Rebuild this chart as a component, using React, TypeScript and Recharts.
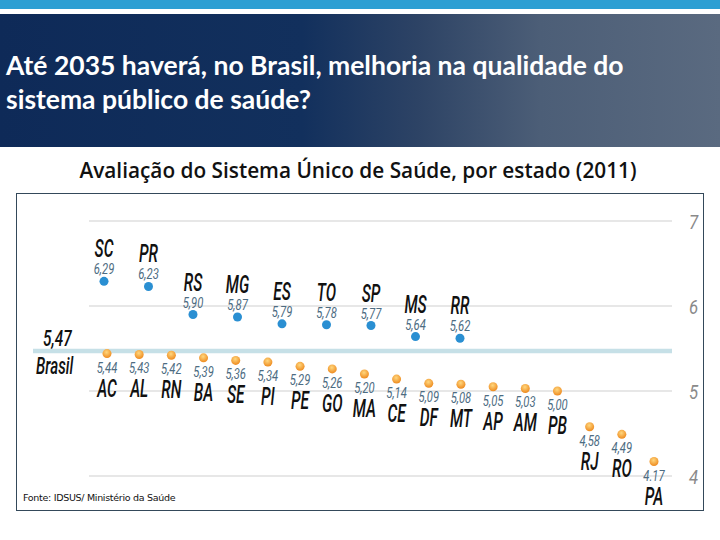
import { ScatterChart, Scatter, XAxis, YAxis, ReferenceLine } from 'recharts'

// states above the national average (blue) and below (orange)
const blueStates = ['SC', 'PR', 'RS', 'MG', 'ES', 'TO', 'SP', 'MS', 'RR']
const blueValues = [6.29, 6.23, 5.9, 5.87, 5.79, 5.78, 5.77, 5.64, 5.62]
const orangeStates = ['AC', 'AL', 'RN', 'BA', 'SE', 'PI', 'PE', 'GO', 'MA', 'CE', 'DF', 'MT', 'AP', 'AM', 'PB', 'RJ', 'RO', 'PA']
const orangeValues = [5.44, 5.43, 5.42, 5.39, 5.36, 5.34, 5.29, 5.26, 5.2, 5.14, 5.09, 5.08, 5.05, 5.03, 5.0, 4.58, 4.49, 4.17]
const brasilValue = 5.47
const yTicks = [4, 5, 6, 7]

const blueData = blueStates.map((uf, i) => ({ i, v: blueValues[i], uf }))
const orangeData = orangeStates.map((uf, i) => ({ i, v: orangeValues[i], uf }))

const FONT = 'Roboto, "DejaVu Sans", sans-serif'

// the source prints PA with a dot
const fmt = (v: number, uf: string) => v.toFixed(2).replace('.', uf === 'PA' ? '.' : ',')

// no condensed font installed, so squeeze the glyphs horizontally
function CText({ x, y, size, sx, fill, anchor = 'middle', weight = 400, children }: any) {
  return (
    <text
      transform={`translate(${x},${y}) scale(${sx},1)`}
      textAnchor={anchor}
      fontFamily={FONT}
      fontStyle="italic"
      fontWeight={weight}
      fontSize={size}
      fill={fill}
    >
      {children}
    </text>
  )
}

function BlueDot(props: any) {
  const { cx, cy, payload } = props
  return (
    <g>
      <CText x={cx} y={cy - 24} size={25} sx={0.62} fill="#111" weight={500}>{payload.uf}</CText>
      <CText x={cx} y={cy - 7} size={15} sx={0.75} fill="#4d6c82">{fmt(payload.v, payload.uf)}</CText>
      <circle cx={cx} cy={cy} r={4.5} fill="#2a8fd2" />
    </g>
  )
}

function OrangeDot(props: any) {
  const { cx, cy, payload } = props
  return (
    <g>
      <circle cx={cx} cy={cy} r={4.5} fill="url(#orangeBall)" />
      <CText x={cx} y={cy + 19} size={15} sx={0.75} fill="#4d6c82">{fmt(payload.v, payload.uf)}</CText>
      <CText x={cx} y={cy + 43} size={25} sx={0.62} fill="#111" weight={500}>{payload.uf}</CText>
    </g>
  )
}

function BrasilLine(props: any) {
  const { x1, x2, y1 } = props
  const right = Math.max(x1, x2)
  const left = Math.min(x1, x2) - 56
  return (
    <g>
      <line x1={left} x2={right} y1={y1} y2={y1} stroke="#c6e0e7" strokeWidth={4.5} />
      <CText x={left + 10} y={y1 - 5} size={22} sx={0.7} fill="#111" anchor="start" weight={500}>{String(brasilValue).replace('.', ',')}</CText>
      <CText x={left + 3} y={y1 + 23} size={23} sx={0.66} fill="#111" anchor="start" weight={500}>Brasil</CText>
    </g>
  )
}

function RightTick(props: any) {
  const { x, y, payload } = props
  return <CText x={x + 9} y={y + 8} size={21} sx={0.8} fill="#8a8a8a" anchor="start">{payload.value}</CText>
}

export default function App() {
  return (
    <div style={{ position: 'fixed', left: 0, top: 0, width: 720, height: 540, background: '#fff', overflow: 'hidden' }}>
      <div style={{ position: 'absolute', left: 0, top: 0, width: 720, height: 9, background: '#2d9fd3' }} />
      <div
        style={{
          position: 'absolute', left: 0, top: 14, width: 720, height: 133,
          background: 'linear-gradient(90deg, #0e2a58 0%, #12305d 42%, #2d4365 58%, #4c5e77 75%, #5a6a80 100%)',
        }}
      >
        <div style={{ position: 'absolute', left: 6, top: 34, color: '#fff', fontFamily: 'Lato, sans-serif', fontWeight: 700, fontSize: 26.5, lineHeight: '34px', whiteSpace: 'nowrap' }}>
          Até 2035 haverá, no Brasil, melhoria na qualidade do<br />sistema público de saúde?
        </div>
      </div>
      <div style={{ position: 'absolute', left: 0, top: 156, width: 716, textAlign: 'center', fontFamily: '"Open Sans", sans-serif', fontWeight: 600, fontSize: 20.8, color: '#111', whiteSpace: 'nowrap' }}>
        Avaliação do Sistema Único de Saúde, por estado (2011)
      </div>
      <div style={{ position: 'absolute', left: 16, top: 193, width: 686, height: 316, border: '1.5px solid #34495a' }}>
        <ScatterChart width={686} height={316} margin={{ top: 10, right: 0, bottom: 0, left: 72 }}>
          <defs>
            <radialGradient id="orangeBall" cx="45%" cy="35%" r="65%">
              <stop offset="0%" stopColor="#ffd77e" />
              <stop offset="100%" stopColor="#ee8a1e" />
            </radialGradient>
          </defs>
          <XAxis xAxisId="blue" type="number" dataKey="i" domain={[0, 8]} padding={{ left: 15, right: 212 }} hide />
          <XAxis xAxisId="orange" type="number" dataKey="i" domain={[0, 17]} padding={{ left: 18, right: 18 }} hide />
          <YAxis
            orientation="right"
            type="number"
            dataKey="v"
            domain={[3.6, 7.2]}
            ticks={yTicks}
            axisLine={false}
            tickLine={false}
            width={31}
            tick={<RightTick />}
          />
          {yTicks.map((t) => (
            <ReferenceLine key={t} xAxisId="orange" y={t} stroke="#cfcfcf" strokeWidth={1.2} />
          ))}
          <ReferenceLine xAxisId="orange" y={brasilValue} shape={<BrasilLine />} />
          <Scatter xAxisId="blue" data={blueData} shape={<BlueDot />} isAnimationActive={false} />
          <Scatter xAxisId="orange" data={orangeData} shape={<OrangeDot />} isAnimationActive={false} />
        </ScatterChart>
        <div style={{ position: 'absolute', left: 6, top: 298, fontFamily: '"DejaVu Sans", sans-serif', fontSize: 9.5, letterSpacing: -0.3, color: '#111' }}>
          Fonte: IDSUS/ Ministério da Saúde
        </div>
      </div>
    </div>
  )
}
